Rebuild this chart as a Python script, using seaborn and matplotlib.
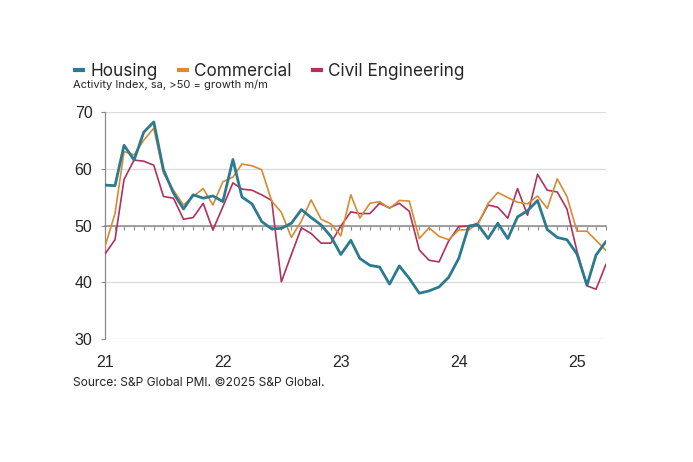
import numpy as np
import pandas as pd
import matplotlib
matplotlib.use("Agg")
import matplotlib.pyplot as plt
import matplotlib.dates as mdates
from matplotlib.lines import Line2D
import seaborn as sns

# monthly, Jan 2021 - Apr 2025
months = pd.date_range("2021-01-01", "2025-04-01", freq="MS")

housing = [57.1, 57.0, 64.1, 61.5, 66.4, 68.2, 59.8, 55.7, 52.9, 55.4, 54.8, 55.2,
           54.2, 61.6, 55.0, 53.8, 50.7, 49.4, 49.5, 50.4, 52.8, 51.4, 50.1, 48.1,
           44.9, 47.4, 44.2, 43.0, 42.7, 39.7, 42.9, 40.7, 38.1, 38.5, 39.2, 40.9,
           44.2, 49.9, 50.1, 47.7, 50.4, 47.7, 51.5, 52.6, 54.4, 49.3, 47.9, 47.5,
           45.0, 39.5, 44.8, 47.2]
commercial = [46.3, 52.1, 63.0, 62.4, 65.0, 67.1, 59.2, 56.2, 53.6, 55.1, 56.5, 53.6,
              57.7, 58.5, 60.8, 60.5, 59.8, 54.3, 52.3, 47.9, 50.8, 54.5, 51.1, 50.3,
              48.2, 55.4, 51.3, 53.9, 54.2, 53.0, 54.4, 54.3, 47.7, 49.6, 48.1, 47.5,
              49.2, 49.3, 50.3, 53.9, 55.8, 54.9, 54.1, 53.8, 55.2, 53.0, 58.2, 55.1,
              49.0, 49.0, 47.4, 45.6]
civil = [45.0, 47.5, 58.1, 61.5, 61.3, 60.6, 55.1, 54.8, 51.1, 51.4, 53.9, 49.2,
         53.3, 57.5, 56.4, 56.2, 55.4, 54.4, 40.1, 44.9, 49.6, 48.6, 46.9, 46.9,
         49.9, 52.4, 52.1, 52.1, 53.9, 53.1, 53.9, 52.5, 45.7, 43.9, 43.6, 47.3,
         49.8, 49.9, 50.4, 53.6, 53.2, 51.3, 56.5, 51.8, 59.0, 56.2, 55.9, 52.9,
         45.5, 39.4, 38.8, 43.2]

series = ["Housing", "Commercial", "Civil Engineering"]
colors = {"Housing": "#2c7a8f", "Commercial": "#d98a32", "Civil Engineering": "#b1305f"}
widths = {"Housing": 2.0, "Commercial": 1.2, "Civil Engineering": 1.2}

df = pd.DataFrame({"month": months, "Housing": housing,
                   "Commercial": commercial, "Civil Engineering": civil})
long = df.melt(id_vars="month", var_name="sector", value_name="index")

sns.set_style("white")
plt.rcParams["font.family"] = ["Liberation Sans", "DejaVu Sans"]

fig = plt.figure(figsize=(6.93, 4.62), dpi=100)
ax = fig.add_axes([0.1515, 0.2656, 0.7230, 0.4926])

# housing drawn last so it sits on top
for name in ["Civil Engineering", "Commercial", "Housing"]:
    sns.lineplot(data=long[long["sector"] == name], x="month", y="index",
                 color=colors[name], linewidth=widths[name], ax=ax,
                 legend=False, zorder=3)

ax.set_xlim(months[0], months[-1])
ax.set_ylim(30, 70)
ax.set_yticks([30, 40, 50, 60, 70])
ax.set_xlabel("")
ax.set_ylabel("")

grey = "#8a8a8a"
ax.yaxis.grid(True, color="#dcdcdc", linewidth=1.0)
ax.xaxis.grid(False)
ax.set_axisbelow(True)

# 50 line carries the monthly ticks
ax.spines["top"].set_position(("data", 50))
ax.spines["top"].set_color(grey)
ax.spines["top"].set_linewidth(1.1)
ax.spines["right"].set_visible(False)
ax.spines["bottom"].set_visible(False)
ax.spines["left"].set_color(grey)
ax.spines["left"].set_linewidth(0.9)

ax.xaxis.set_major_locator(mdates.YearLocator())
ax.xaxis.set_major_formatter(mdates.DateFormatter("%y"))
ax.xaxis.set_minor_locator(mdates.MonthLocator())
ax.tick_params(axis="x", which="both", top=True, bottom=False, labeltop=False,
               labelbottom=True, direction="in", length=3, width=0.8,
               color=grey, labelsize=11.5, pad=11)
ax.tick_params(axis="y", which="major", left=True, direction="out", length=3,
               width=0.8, color=grey, labelsize=11.5, pad=6)

handles = [Line2D([], [], color=colors[n], linewidth=3.0, solid_capstyle="butt")
           for n in series]
fig.legend(handles, series, loc="center left", bbox_to_anchor=(0.105, 0.846),
           ncol=3, frameon=False, borderpad=0, borderaxespad=0,
           handlelength=0.7, handletextpad=0.32, columnspacing=1.1,
           prop={"family": ["Inter", "DejaVu Sans"], "size": 12.4})

fig.text(0.105, 0.8106, "Activity Index, sa, >50 = growth m/m",
         family=["Inter", "DejaVu Sans"], fontsize=8, va="baseline", ha="left")
fig.text(0.105, 0.171, "Source: S&P Global PMI. \u00a92025 S&P Global.",
         family=["Inter", "DejaVu Sans"], fontsize=8.7, va="center", ha="left")

fig.savefig("out.png", dpi=100)
